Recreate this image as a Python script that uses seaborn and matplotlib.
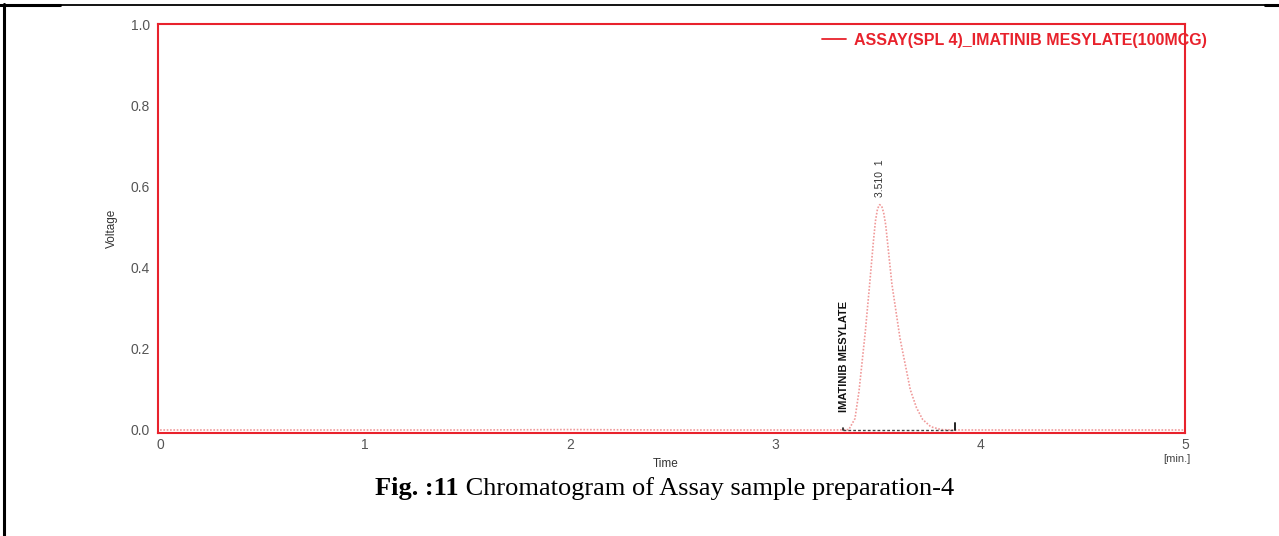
import matplotlib
matplotlib.use("Agg")
import matplotlib.pyplot as plt
import seaborn as sns
import pandas as pd
from matplotlib.lines import Line2D

# ---- data ----
time_min = [0.0, 0.5, 1.0, 1.5, 2.0, 2.5, 3.0, 3.30, 3.36, 3.39, 3.41, 3.44, 3.46, 3.48,
            3.49, 3.50, 3.51, 3.52, 3.53, 3.54, 3.57, 3.61, 3.66, 3.69, 3.72, 3.76, 3.81,
            3.86, 4.0, 4.5, 5.0]
voltage = [0.0, 0.0, 0.0, 0.0, 0.001, 0.0, 0.0, 0.0, 0.001, 0.028, 0.097, 0.24, 0.35, 0.465,
           0.515, 0.545, 0.555, 0.552, 0.535, 0.505, 0.36, 0.225, 0.099, 0.055, 0.026, 0.008,
           0.001, 0.0, 0.0, 0.0, 0.0]
baseline_t = [3.33, 3.88]
baseline_v = [0.0, 0.0]
peak_rt = 3.510
peak_height = 0.555
peak_name = "IMATINIB MESYLATE"
series_name = "ASSAY(SPL 4)_IMATINIB MESYLATE(100MCG)"
x_ticks = [0, 1, 2, 3, 4, 5]
y_ticks = [0.0, 0.2, 0.4, 0.6, 0.8, 1.0]
y_ticklabels = ["0.0", "0.2", "0.4", "0.6", "0.8", "1.0"]

RED = "#e8222c"
PINK = "#f09a9a"
GREY = "#444444"

sns.set_theme(style="white")
plt.rcParams["font.family"] = ["Liberation Sans", "DejaVu Sans"]

fig = plt.figure(figsize=(12.79, 5.36), dpi=100)
ax = fig.add_axes([158 / 1279, 1 - 433 / 536, (1185 - 158) / 1279, (433 - 24) / 536])

df = pd.DataFrame({"Time": time_min, "Voltage": voltage})
sns.lineplot(data=df, x="Time", y="Voltage", ax=ax, color=PINK, linestyle=(0, (1, 1)),
             linewidth=1.2, legend=False)
# integration baseline
ax.plot(baseline_t, baseline_v, color=GREY, linestyle=(0, (2, 1.5)), linewidth=1.0)
ax.plot([baseline_t[0]] * 2, [0.0, 0.005], color="#222222", linewidth=1.2)
ax.plot([baseline_t[1]] * 2, [0.0, 0.018], color="#222222", linewidth=1.4)

ax.set_xlim(-0.01, 5.0)
ax.set_ylim(-0.0074, 1.0)
ax.set_xticks(x_ticks)
ax.set_yticks(y_ticks)
ax.set_yticklabels(y_ticklabels)
for s in ax.spines.values():
    s.set_color(RED)
    s.set_linewidth(1.5)
    s.set_visible(True)
ax.tick_params(axis="both", colors=RED, direction="out", length=5, width=1.2,
               labelcolor="#555555", labelsize=10, pad=1)
ax.tick_params(axis="x", pad=-1.5)
ax.set_xlabel("Time", fontsize=8.5, color="#333333")
ax.set_ylabel("Voltage", fontsize=8.5, color="#333333")
ax.yaxis.set_label_coords(-0.039, 0.5)
ax.xaxis.set_label_coords(0.494, -0.062)

# peak annotations
ax.text(peak_rt, peak_height + 0.02, "3.510  1", rotation=90, ha="center", va="bottom",
        fontsize=7.5, color="#333333")
ax.text(3.335, 0.045, peak_name, rotation=90, ha="center", va="bottom",
        fontsize=8, fontweight="bold", color="#111111")

fig.text(1177 / 1279, 1 - 459 / 536, "[min.]", ha="center", va="center", fontsize=8,
         color="#444444")

# legend
handle = Line2D([], [], color=RED, linewidth=1.3)
leg = ax.legend([handle], [series_name], loc="center left",
                bbox_to_anchor=(808 / 1279, 1 - 40 / 536), bbox_transform=fig.transFigure,
                frameon=False, handlelength=1.5, handletextpad=0.45,
                prop={"weight": "bold", "size": 11.5})
for t in leg.get_texts():
    t.set_color(RED)

# caption
cap_font = ["Liberation Serif", "DejaVu Serif"]
t1 = fig.text(375 / 1279, 1 - 488 / 536, "Fig. :11", ha="left", va="center",
              fontsize=19, fontweight="bold", family=cap_font, color="black")
fig.canvas.draw()
ax.annotate(" Chromatogram of Assay sample preparation-4", xy=(1, 0), xycoords=t1,
            ha="left", va="bottom", fontsize=19, family=cap_font, color="black",
            annotation_clip=False)

# table-cell borders
fig.add_artist(Line2D([4 / 1279, 4 / 1279], [0, 1 - 4 / 536], color="black", linewidth=2.2,
                      transform=fig.transFigure))
fig.add_artist(Line2D([0, 1], [1 - 5 / 536, 1 - 5 / 536], color="black", linewidth=1.3,
                      transform=fig.transFigure))
fig.add_artist(Line2D([0, 60 / 1279], [1 - 5 / 536, 1 - 5 / 536], color="black",
                      linewidth=2.2, transform=fig.transFigure))
fig.add_artist(Line2D([1265 / 1279, 1], [1 - 5 / 536, 1 - 5 / 536], color="black",
                      linewidth=2.2, transform=fig.transFigure))

fig.savefig("out.png", dpi=100)
